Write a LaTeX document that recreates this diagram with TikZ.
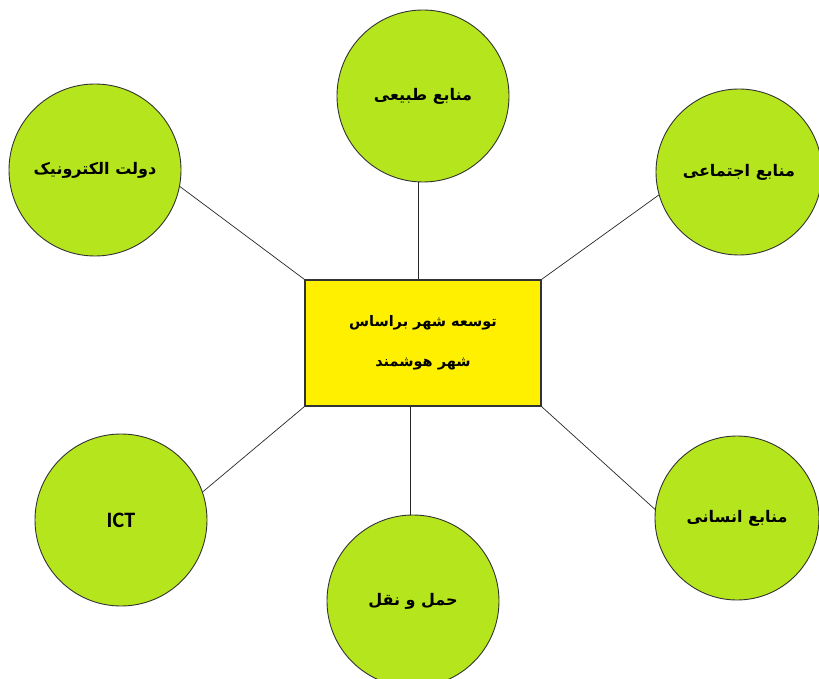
\documentclass[tikz,border=0pt]{standalone}
\usepackage{fontspec}
\TeXXeTstate=1
\newfontfamily\arabicfont[Script=Arabic]{DejaVu Sans}
\newfontfamily\latinsans{Carlito}
\definecolor{leafgreen}{RGB}{181,230,29}
\definecolor{boxyellow}{RGB}{255,240,0}
\begin{document}
\begin{tikzpicture}[x=1pt,y=-1pt,
  topic/.style={circle, draw=black!80, line width=0.9pt, fill=leafgreen,
    minimum size=172pt, inner sep=0pt,
    font=\arabicfont\bfseries\fontsize{16}{18}\selectfont},
  hub/.style={rectangle, draw=black!80, line width=1.2pt, fill=boxyellow,
    minimum width=236pt, minimum height=126pt, align=center,
    font=\arabicfont\bfseries\fontsize{14.5}{40}\selectfont},
  link/.style={draw=black!85, line width=0.7pt}]
\useasboundingbox (0,0) rectangle (819,679);

% central box
\node[hub] (box) at (423,343) {\beginR توسعه شهر براساس\endR\\\beginR شهر هوشمند\endR};

% surrounding topics
\node[topic] (nat) at (423,96)  {\beginR منابع طبیعی\endR};
\node[topic] (gov) at (95,170)  {\beginR دولت الکترونیک\endR};
\node[topic, minimum size=166pt] (soc) at (739,172) {\beginR منابع اجتماعی\endR};
\node[topic, minimum size=164pt] (hum) at (737,518) {\beginR منابع انسانی\endR};
\node[topic] (trn) at (413,601) {\beginR حمل و نقل\endR};
\node[topic, font=\latinsans\bfseries\fontsize{22}{24}\selectfont] (ict) at (121,520) {ICT};

% connectors
\draw[link] (nat.-93) -- (nat.-93 |- box.north);
\draw[link] (trn.92) -- (trn.92 |- box.south);
\draw[link] (gov.-11.7) -- (box.north west);
\draw[link] (soc.-164) -- (box.north east);
\draw[link] (ict.19) -- (box.south west);
\draw[link] (hum.174) -- (box.south east);
\end{tikzpicture}
\end{document}
